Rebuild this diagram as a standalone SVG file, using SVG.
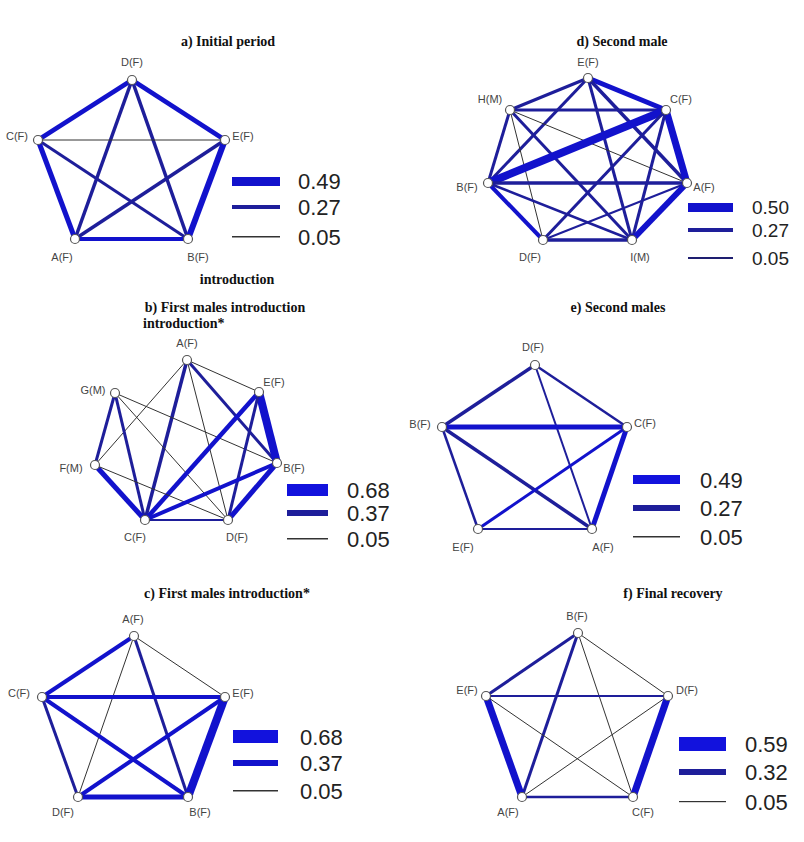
<svg xmlns="http://www.w3.org/2000/svg" width="804" height="842" viewBox="0 0 804 842">
<style>
.t{font-family:"Liberation Serif",serif;font-weight:bold;font-size:14px;fill:#111;text-anchor:middle}
.n{font-family:"Liberation Sans",sans-serif;font-size:11px;fill:#444;text-anchor:middle}
.lg{font-family:"Liberation Sans",sans-serif;font-size:22px;fill:#222}
.lgs{font-family:"Liberation Sans",sans-serif;font-size:19px;fill:#222}
.k{stroke:#1212cc;stroke-linecap:butt}
.m{stroke:#1e1e9a}
.s{stroke:#333;stroke-width:1}
circle{fill:#fff;stroke:#555;stroke-width:1.2}
</style>
<rect width="804" height="842" fill="#fff"/>
<!-- Panel a -->
<text class="t" x="228" y="46">a) Initial period</text>
<text class="t" x="237" y="284">introduction</text>
<g id="edges-a">
<line class="k" x1="132" y1="80" x2="38" y2="140" stroke-width="4.5"/>
<line class="k" x1="132" y1="80" x2="225" y2="140" stroke-width="4.5"/>
<line class="m" x1="132" y1="80" x2="75" y2="239" stroke-width="3.5"/>
<line class="m" x1="132" y1="80" x2="188" y2="239" stroke-width="3.5"/>
<line class="s" x1="38" y1="140" x2="225" y2="140"/>
<line class="k" x1="38" y1="140" x2="75" y2="239" stroke-width="5"/>
<line class="m" x1="38" y1="140" x2="188" y2="239" stroke-width="3"/>
<line class="m" x1="225" y1="140" x2="75" y2="239" stroke-width="3.5"/>
<line class="k" x1="225" y1="140" x2="188" y2="239" stroke-width="6"/>
<line class="k" x1="75" y1="239" x2="188" y2="239" stroke-width="4"/>
</g>
<g id="nodes-a">
<g id="a-D"><circle cx="132" cy="80" r="4.5"/><text class="n" x="132" y="66">D(F)</text></g>
<g id="a-C"><circle cx="38" cy="140" r="4.5"/><text class="n" x="17" y="140">C(F)</text></g>
<g id="a-E"><circle cx="225" cy="140" r="4.5"/><text class="n" x="243" y="140">E(F)</text></g>
<g id="a-A"><circle cx="75" cy="239" r="4.5"/><text class="n" x="62" y="261">A(F)</text></g>
<g id="a-B"><circle cx="188" cy="239" r="4.5"/><text class="n" x="198" y="261">B(F)</text></g>
</g>
<g id="legend-a">
<rect x="232" y="177" width="48" height="9" fill="#1212cc"/>
<rect x="232" y="205" width="48" height="4" fill="#1e1e9a"/>
<rect x="232" y="236" width="48" height="1.5" fill="#333"/>
<text class="lg" x="298" y="189">0.49</text>
<text class="lg" x="298" y="215">0.27</text>
<text class="lg" x="298" y="245">0.05</text>
</g>
<!-- Panel d -->
<text class="t" x="622" y="46">d) Second male</text>
<g id="edges-d">
<line class="m" x1="588" y1="78" x2="510" y2="110" stroke-width="3"/>
<line class="m" x1="588" y1="78" x2="488" y2="183" stroke-width="3"/>
<line class="k" x1="588" y1="78" x2="666" y2="110" stroke-width="5"/>
<line class="m" x1="588" y1="78" x2="687" y2="183" stroke-width="3.5"/>
<line class="m" x1="588" y1="78" x2="632" y2="240" stroke-width="3"/>
<line class="m" x1="510" y1="110" x2="666" y2="110" stroke-width="3"/>
<line class="m" x1="510" y1="110" x2="488" y2="183" stroke-width="3"/>
<line class="s" x1="510" y1="110" x2="687" y2="183"/>
<line class="m" x1="510" y1="110" x2="632" y2="240" stroke-width="3"/>
<line class="s" x1="510" y1="110" x2="543" y2="240"/>
<line class="k" x1="666" y1="110" x2="488" y2="183" stroke-width="8"/>
<line class="k" x1="666" y1="110" x2="687" y2="183" stroke-width="7"/>
<line class="m" x1="666" y1="110" x2="543" y2="240" stroke-width="3"/>
<line class="m" x1="666" y1="110" x2="632" y2="240" stroke-width="3"/>
<line class="m" x1="488" y1="183" x2="687" y2="183" stroke-width="3.5"/>
<line class="k" x1="488" y1="183" x2="543" y2="240" stroke-width="4"/>
<line class="m" x1="488" y1="183" x2="632" y2="240" stroke-width="2.5"/>
<line class="m" x1="687" y1="183" x2="543" y2="240" stroke-width="2"/>
<line class="k" x1="687" y1="183" x2="632" y2="240" stroke-width="6"/>
<line class="m" x1="543" y1="240" x2="632" y2="240" stroke-width="3.5"/>
</g>
<g id="nodes-d">
<g id="d-E"><circle cx="588" cy="78" r="4.5"/><text class="n" x="588" y="66">E(F)</text></g>
<g id="d-H"><circle cx="510" cy="110" r="4.5"/><text class="n" x="490" y="103">H(M)</text></g>
<g id="d-C"><circle cx="666" cy="110" r="4.5"/><text class="n" x="681" y="103">C(F)</text></g>
<g id="d-B"><circle cx="488" cy="183" r="4.5"/><text class="n" x="467" y="191">B(F)</text></g>
<g id="d-A"><circle cx="687" cy="183" r="4.5"/><text class="n" x="704" y="191">A(F)</text></g>
<g id="d-D"><circle cx="543" cy="240" r="4.5"/><text class="n" x="530" y="261">D(F)</text></g>
<g id="d-I"><circle cx="632" cy="240" r="4.5"/><text class="n" x="640" y="261">I(M)</text></g>
</g>
<g id="legend-d">
<rect x="688" y="203" width="45" height="9" fill="#1212cc"/>
<rect x="688" y="228" width="45" height="4" fill="#1e1e9a"/>
<rect x="688" y="257" width="45" height="2" fill="#1e1e70"/>
<text class="lgs" x="752" y="214">0.50</text>
<text class="lgs" x="752" y="237">0.27</text>
<text class="lgs" x="752" y="265">0.05</text>
</g>
<!-- Panel b -->
<text class="t" x="225" y="312">b) First males introduction</text>
<text class="t" x="143" y="328" style="text-anchor:start">introduction*</text>
<g id="edges-b">
<line class="s" x1="187" y1="360" x2="259" y2="392"/>
<line class="s" x1="187" y1="360" x2="95" y2="465"/>
<line class="m" x1="187" y1="360" x2="145" y2="520" stroke-width="3.5"/>
<line class="s" x1="187" y1="360" x2="228" y2="520"/>
<line class="m" x1="187" y1="360" x2="277" y2="463" stroke-width="3"/>
<line class="m" x1="115" y1="393" x2="95" y2="465" stroke-width="3"/>
<line class="m" x1="115" y1="393" x2="145" y2="520" stroke-width="3"/>
<line class="s" x1="115" y1="393" x2="277" y2="463"/>
<line class="s" x1="115" y1="393" x2="228" y2="520"/>
<line class="k" x1="259" y1="392" x2="145" y2="520" stroke-width="4.5"/>
<line class="k" x1="259" y1="392" x2="277" y2="463" stroke-width="8"/>
<line class="m" x1="259" y1="392" x2="228" y2="520" stroke-width="3"/>
<line class="k" x1="95" y1="465" x2="145" y2="520" stroke-width="5"/>
<line class="s" x1="95" y1="465" x2="228" y2="520"/>
<line class="k" x1="145" y1="520" x2="277" y2="463" stroke-width="4"/>
<line class="m" x1="145" y1="520" x2="228" y2="520" stroke-width="2"/>
<line class="k" x1="228" y1="520" x2="277" y2="463" stroke-width="5"/>
</g>
<g id="nodes-b">
<g id="b-A"><circle cx="187" cy="360" r="4.5"/><text class="n" x="187" y="347">A(F)</text></g>
<g id="b-G"><circle cx="115" cy="393" r="4.5"/><text class="n" x="93" y="394">G(M)</text></g>
<g id="b-E"><circle cx="259" cy="392" r="4.5"/><text class="n" x="274" y="386">E(F)</text></g>
<g id="b-F"><circle cx="95" cy="465" r="4.5"/><text class="n" x="71" y="472">F(M)</text></g>
<g id="b-B"><circle cx="277" cy="463" r="4.5"/><text class="n" x="294" y="472">B(F)</text></g>
<g id="b-C"><circle cx="145" cy="520" r="4.5"/><text class="n" x="135" y="541">C(F)</text></g>
<g id="b-D"><circle cx="228" cy="520" r="4.5"/><text class="n" x="237" y="541">D(F)</text></g>
</g>
<g id="legend-b">
<rect x="287" y="484" width="41" height="12" fill="#1212dd"/>
<rect x="287" y="510" width="41" height="6" fill="#1e1e9a"/>
<rect x="287" y="538" width="41" height="1.5" fill="#333"/>
<text class="lg" x="347" y="498">0.68</text>
<text class="lg" x="347" y="521">0.37</text>
<text class="lg" x="347" y="547">0.05</text>
</g>
<!-- Panel e -->
<text class="t" x="618" y="312">e) Second males</text>
<g id="edges-e">
<line class="m" x1="535" y1="365" x2="442" y2="427" stroke-width="3.5"/>
<line class="m" x1="535" y1="365" x2="627" y2="427" stroke-width="2.5"/>
<line class="m" x1="535" y1="365" x2="592" y2="529" stroke-width="2"/>
<line class="k" x1="442" y1="427" x2="627" y2="427" stroke-width="5"/>
<line class="m" x1="442" y1="427" x2="478" y2="529" stroke-width="2.5"/>
<line class="m" x1="442" y1="427" x2="592" y2="529" stroke-width="3.5"/>
<line class="k" x1="627" y1="427" x2="478" y2="529" stroke-width="3"/>
<line class="k" x1="627" y1="427" x2="592" y2="529" stroke-width="5"/>
<line class="m" x1="478" y1="529" x2="592" y2="529" stroke-width="2"/>
</g>
<g id="nodes-e">
<g id="e-D"><circle cx="535" cy="365" r="4.5"/><text class="n" x="533" y="351">D(F)</text></g>
<g id="e-B"><circle cx="442" cy="427" r="4.5"/><text class="n" x="420" y="428">B(F)</text></g>
<g id="e-C"><circle cx="627" cy="427" r="4.5"/><text class="n" x="645" y="427">C(F)</text></g>
<g id="e-E"><circle cx="478" cy="529" r="4.5"/><text class="n" x="463" y="551">E(F)</text></g>
<g id="e-A"><circle cx="592" cy="529" r="4.5"/><text class="n" x="603" y="551">A(F)</text></g>
</g>
<g id="legend-e">
<rect x="633" y="475" width="47" height="9" fill="#1212dd"/>
<rect x="633" y="505" width="47" height="6" fill="#1e1e9a"/>
<rect x="633" y="536" width="47" height="1.5" fill="#333"/>
<text class="lg" x="700" y="488">0.49</text>
<text class="lg" x="700" y="516">0.27</text>
<text class="lg" x="700" y="545">0.05</text>
</g>
<!-- Panel c -->
<text class="t" x="227" y="598">c) First males introduction*</text>
<g id="edges-c">
<line class="k" x1="134" y1="636" x2="42" y2="697" stroke-width="4"/>
<line class="s" x1="134" y1="636" x2="225" y2="697"/>
<line class="s" x1="134" y1="636" x2="78" y2="797"/>
<line class="m" x1="134" y1="636" x2="188" y2="797" stroke-width="3"/>
<line class="k" x1="42" y1="697" x2="225" y2="697" stroke-width="4"/>
<line class="m" x1="42" y1="697" x2="78" y2="797" stroke-width="3"/>
<line class="k" x1="42" y1="697" x2="188" y2="797" stroke-width="4"/>
<line class="k" x1="225" y1="697" x2="78" y2="797" stroke-width="4"/>
<line class="k" x1="225" y1="697" x2="188" y2="797" stroke-width="8"/>
<line class="k" x1="78" y1="797" x2="188" y2="797" stroke-width="5"/>
</g>
<g id="nodes-c">
<g id="c-A"><circle cx="134" cy="636" r="4.5"/><text class="n" x="133" y="623">A(F)</text></g>
<g id="c-C"><circle cx="42" cy="697" r="4.5"/><text class="n" x="19" y="697">C(F)</text></g>
<g id="c-E"><circle cx="225" cy="697" r="4.5"/><text class="n" x="243" y="697">E(F)</text></g>
<g id="c-D"><circle cx="78" cy="797" r="4.5"/><text class="n" x="63" y="816">D(F)</text></g>
<g id="c-B"><circle cx="188" cy="797" r="4.5"/><text class="n" x="200" y="816">B(F)</text></g>
</g>
<g id="legend-c">
<rect x="233" y="730" width="45" height="13" fill="#1212dd"/>
<rect x="233" y="760" width="45" height="6" fill="#1212cc"/>
<rect x="233" y="790" width="45" height="1.5" fill="#333"/>
<text class="lg" x="300" y="745">0.68</text>
<text class="lg" x="300" y="771">0.37</text>
<text class="lg" x="300" y="799">0.05</text>
</g>
<!-- Panel f -->
<text class="t" x="673" y="598">f) Final recovery</text>
<g id="edges-f">
<line class="m" x1="578" y1="633" x2="486" y2="696" stroke-width="3"/>
<line class="s" x1="578" y1="633" x2="668" y2="696"/>
<line class="m" x1="578" y1="633" x2="522" y2="797" stroke-width="3"/>
<line class="s" x1="578" y1="633" x2="633" y2="797"/>
<line class="m" x1="486" y1="696" x2="668" y2="696" stroke-width="2"/>
<line class="k" x1="486" y1="696" x2="522" y2="797" stroke-width="7"/>
<line class="s" x1="486" y1="696" x2="633" y2="797"/>
<line class="s" x1="668" y1="696" x2="522" y2="797"/>
<line class="k" x1="668" y1="696" x2="633" y2="797" stroke-width="7"/>
<line class="m" x1="522" y1="797" x2="633" y2="797" stroke-width="2.5"/>
</g>
<g id="nodes-f">
<g id="f-B"><circle cx="578" cy="633" r="4.5"/><text class="n" x="577" y="620">B(F)</text></g>
<g id="f-E"><circle cx="486" cy="696" r="4.5"/><text class="n" x="467" y="694">E(F)</text></g>
<g id="f-D"><circle cx="668" cy="696" r="4.5"/><text class="n" x="687" y="694">D(F)</text></g>
<g id="f-A"><circle cx="522" cy="797" r="4.5"/><text class="n" x="508" y="816">A(F)</text></g>
<g id="f-C"><circle cx="633" cy="797" r="4.5"/><text class="n" x="643" y="816">C(F)</text></g>
</g>
<g id="legend-f">
<rect x="679" y="737" width="47" height="14" fill="#1212dd"/>
<rect x="679" y="769" width="47" height="6" fill="#1e1e9a"/>
<rect x="679" y="801" width="47" height="1.2" fill="#333"/>
<text class="lg" x="745" y="752">0.59</text>
<text class="lg" x="745" y="780">0.32</text>
<text class="lg" x="745" y="810">0.05</text>
</g>
</svg>
